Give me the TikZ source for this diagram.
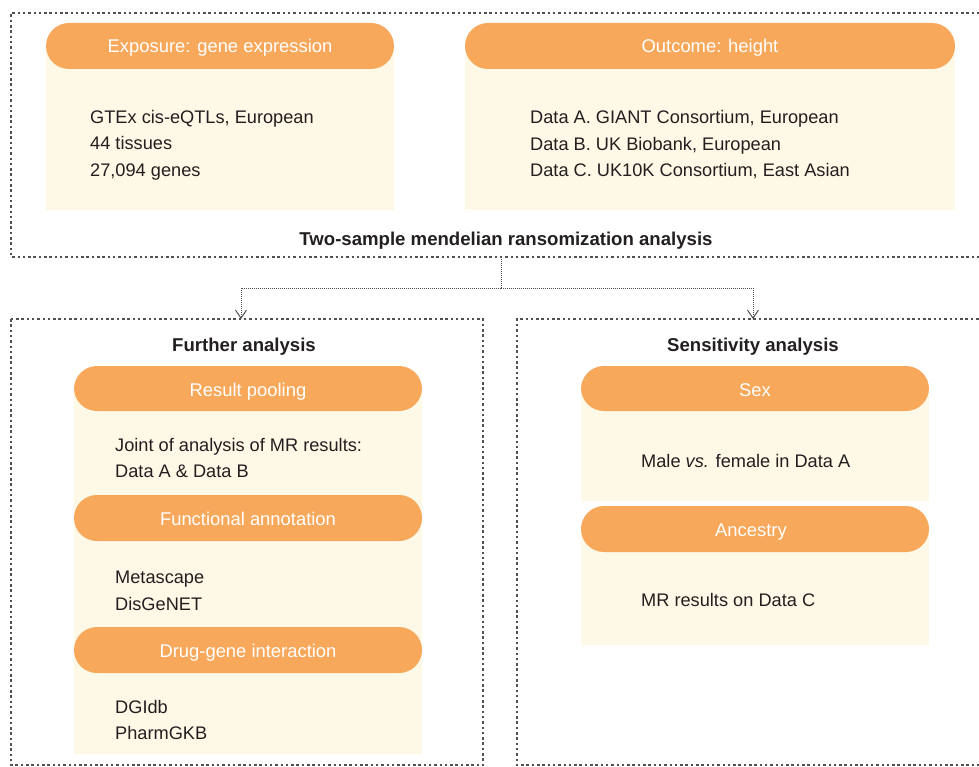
\documentclass[tikz,border=0pt]{standalone}
\usepackage{fontspec}
\setmainfont{Liberation Sans}
\usetikzlibrary{arrows.meta}

\definecolor{pillorange}{RGB}{248,168,90}
\definecolor{creambg}{RGB}{254,248,230}
\definecolor{dotgray}{RGB}{80,80,80}
\definecolor{inkdark}{RGB}{35,31,32}

\tikzset{
  framebox/.style={draw=dotgray, line width=2.5pt, dash pattern=on 2.5pt off 2.8pt},
  creamarea/.style={fill=creambg, draw=none},
  pill/.style={fill=pillorange, draw=none, rounded corners=23pt},
  pilltext/.style={text=white, font=\fontsize{18.4}{22}\selectfont, inner sep=0pt, anchor=base},
  bodytext/.style={text=inkdark, font=\fontsize{18.2}{26.5}\selectfont, align=left, inner sep=0pt, anchor=west},
  headtext/.style={text=inkdark, font=\fontsize{18.6}{22}\selectfont\bfseries, inner sep=0pt, anchor=base},
  flowline/.style={draw=dotgray, line width=1pt, dash pattern=on 1pt off 1pt},
  flowarrow/.style={flowline, -{Straight Barb[length=8pt, width=11pt, line width=1pt]}}
}

\begin{document}
\begin{tikzpicture}[x=1pt, y=-1pt]
\useasboundingbox (0,0) rectangle (979,767);

% ---------- upper frame: two-sample MR ----------
\draw[framebox] (990,13) -- (11,13) -- (11,257) -- (990,257);

% exposure block
\fill[creamarea] (46,46) rectangle (394,210);
\fill[pill] (46,23) rectangle (394,69);
\node[pilltext] (expo) at (220,53) {Exposure: gene expression};
\node[bodytext] (expotxt) at (90,145) {GTEx cis-eQTLs, European\\44 tissues\\27,094 genes};

% outcome block
\fill[creamarea] (465,46) rectangle (955,210);
\fill[pill] (465,23) rectangle (955,69);
\node[pilltext] (outc) at (710,53) {Outcome: height};
\node[bodytext] (outctxt) at (530,145) {Data A. GIANT Consortium, European\\Data B. UK Biobank, European\\Data C. UK10K Consortium, East Asian};

\node[headtext] (mr) at (506,245.5) {Two-sample mendelian ransomization analysis};

% ---------- lower frames ----------
\draw[framebox] (11,319) rectangle (483,765);
\draw[framebox] (990,765) -- (517,765) -- (517,319) -- (990,319);

\coordinate (split) at (501,257);
\coordinate (furtherTop) at (241,319);
\coordinate (sensTop) at (753,319);
\draw[flowline] (split) -- (501,288);
\draw[flowarrow] (501,288) -| (furtherTop);
\draw[flowarrow] (501,288) -| (sensTop);

% further analysis
\node[headtext] (further) at (244,351.5) {Further analysis};
\fill[creamarea] (74,388) rectangle (422,754);
\fill[pill] (74,366) rectangle (422,411);
\node[pilltext] (pool) at (248,396) {Result pooling};
\node[bodytext] (pooltxt) at (115,458) {Joint of analysis of MR results:\\Data A \& Data B};
\fill[pill] (74,495) rectangle (422,541);
\node[pilltext] (func) at (248,525) {Functional annotation};
\node[bodytext] (functxt) at (115,591) {Metascape\\DisGeNET};
\fill[pill] (74,627) rectangle (422,673);
\node[pilltext] (drug) at (248,657) {Drug-gene interaction};
\node[bodytext] (drugtxt) at (115,720) {DGIdb\\PharmGKB};

% sensitivity analysis
\node[headtext] (sens) at (753,351.5) {Sensitivity analysis};
\fill[creamarea] (581,388) rectangle (929,501);
\fill[pill] (581,366) rectangle (929,411);
\node[pilltext] (sex) at (755,396) {Sex};
\node[bodytext] (sextxt) at (641,461) {Male \textit{vs.} female in Data A};
\fill[creamarea] (581,529) rectangle (929,645);
\fill[pill] (581,506) rectangle (929,552);
\node[pilltext] (anc) at (751,536) {Ancestry};
\node[bodytext] (anctxt) at (641,600) {MR results on Data C};
\end{tikzpicture}
\end{document}
